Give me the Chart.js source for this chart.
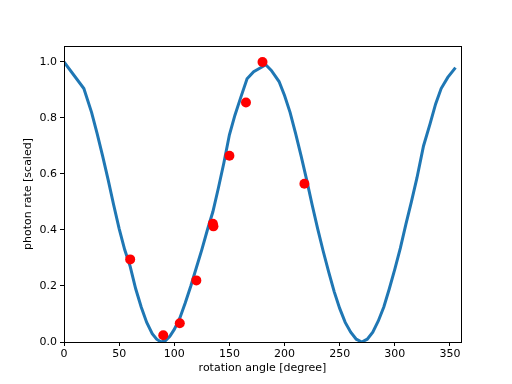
<!DOCTYPE html>
<html>
<head>
<meta charset="utf-8">
<script src="https://cdn.jsdelivr.net/npm/chart.js@4/dist/chart.umd.min.js"></script>
<style>
  html, body { margin: 0; padding: 0; background: #fff; }
  canvas { display: block; }
</style>
</head>
<body>
<canvas id="c" width="512" height="384"></canvas>
<script>
// Fitted curve (rotation angle in degrees, scaled photon rate)
const curveAngles = [0, 18, 25, 30, 35, 40, 45, 50, 55, 60, 65, 70, 75, 80, 84, 88, 92, 96, 100, 105,
  110, 115, 120, 125, 130, 135, 140, 145, 150, 155, 160, 166, 172, 183, 188, 195, 200, 205, 210, 215,
  220, 225, 230, 235, 240, 245, 250, 255, 260, 265, 270, 275, 280, 285, 290, 295, 300, 305, 310, 315,
  320, 326, 332, 337, 342, 348, 355];
const curveRates = [1.0, 0.905, 0.82, 0.745, 0.665, 0.58, 0.49, 0.405, 0.33, 0.27, 0.19, 0.125, 0.07, 0.03, 0.01, 0.0, 0.005, 0.02, 0.045, 0.085,
  0.14, 0.2, 0.265, 0.33, 0.4, 0.465, 0.55, 0.64, 0.74, 0.81, 0.87, 0.94, 0.965, 0.99, 0.97, 0.93, 0.88, 0.82, 0.745, 0.665,
  0.58, 0.49, 0.405, 0.325, 0.25, 0.18, 0.12, 0.07, 0.035, 0.01, 0.0, 0.01, 0.035, 0.075, 0.125, 0.19, 0.26, 0.335, 0.42, 0.5,
  0.585, 0.7, 0.78, 0.85, 0.905, 0.945, 0.98];

// Measured points
const measAngles = [60, 90, 105, 120, 135, 135.5, 150, 165, 180, 218];
const measRates  = [0.295, 0.024, 0.067, 0.22, 0.422, 0.413, 0.665, 0.855, 1.0, 0.565];

const xTicks = [0, 50, 100, 150, 200, 250, 300, 350];
const yTicks = [0.0, 0.2, 0.4, 0.6, 0.8, 1.0];

const curveData = curveAngles.map((a, i) => ({x: a, y: curveRates[i]}));
const measData = measAngles.map((a, i) => ({x: a, y: measRates[i]}));

const frame = {
  id: 'frame',
  afterDraw(chart) {
    const {ctx, chartArea: a} = chart;
    ctx.save();
    ctx.strokeStyle = '#000';
    ctx.lineWidth = 1;
    ctx.strokeRect(Math.round(a.left) + 0.5, Math.round(a.top) + 0.5,
      Math.round(a.right - a.left), Math.round(a.bottom - a.top));
    ctx.restore();
  }
};

const font = {family: 'DejaVu Sans', size: 11};

new Chart(document.getElementById('c'), {
  type: 'scatter',
  data: {
    datasets: [
      {
        data: measData,
        backgroundColor: '#ff0000',
        borderWidth: 0,
        pointRadius: 5,
        pointHoverRadius: 5,
        showLine: false,
        order: 0
      },
      {
        data: curveData,
        showLine: true,
        borderColor: '#1f77b4',
        borderWidth: 3,
        pointRadius: 0,
        tension: 0,
        fill: false,
        clip: 0,
        order: 1
      }
    ]
  },
  plugins: [frame],
  options: {
    responsive: false,
    animation: false,
    devicePixelRatio: 1,
    layout: {padding: {left: 0, top: 46, right: 51, bottom: 0}},
    plugins: {legend: {display: false}, tooltip: {enabled: false}},
    scales: {
      x: {
        type: 'linear',
        min: 0,
        max: 360,
        afterBuildTicks: s => { s.ticks = xTicks.map(v => ({value: v})); },
        afterFit: s => { s.height = 42; },
        ticks: {color: '#000', font, padding: 2, maxRotation: 0, autoSkip: false},
        grid: {display: true, drawOnChartArea: false, tickLength: 4, color: '#000'},
        border: {display: true, color: '#000', width: 1},
        title: {display: true, text: 'rotation angle [degree]', color: '#000', font, padding: {top: 0, bottom: 9}}
      },
      y: {
        type: 'linear',
        min: 0,
        max: 1.057,
        afterBuildTicks: s => { s.ticks = yTicks.map(v => ({value: v})); },
        afterFit: s => { s.width = 64; },
        ticks: {color: '#000', font, padding: 3, callback: v => v.toFixed(1), autoSkip: false},
        grid: {display: true, drawOnChartArea: false, tickLength: 4, color: '#000'},
        border: {display: true, color: '#000', width: 1},
        title: {display: true, text: 'photon rate [scaled]', color: '#000', font, padding: {top: 22, bottom: 0}}
      }
    }
  }
});
</script>
</body>
</html>
